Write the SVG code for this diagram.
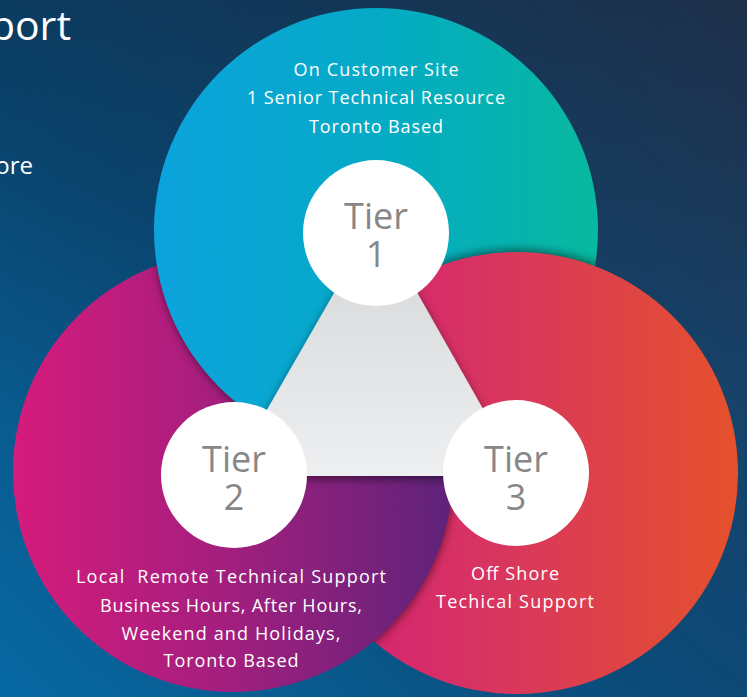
<svg xmlns="http://www.w3.org/2000/svg" width="747" height="697" viewBox="0 0 747 697">
<style>
.desc{font-family:"Open Sans","DejaVu Sans",sans-serif;font-size:18px;fill:#ffffff;text-anchor:middle}
.tier{font-family:"Open Sans","DejaVu Sans",sans-serif;font-size:36px;fill:#878787;text-anchor:middle}
.title{font-family:"Open Sans","DejaVu Sans",sans-serif;fill:#ffffff;text-anchor:end}
.badge{fill:#ffffff}
.cast{fill:#000000;opacity:0.45;filter:url(#blur)}
</style>
<defs>
<linearGradient id="bg" x1="0" y1="1" x2="1" y2="0">
<stop offset="0" stop-color="#0769a3"/>
<stop offset="0.45" stop-color="#0b4a78"/>
<stop offset="1" stop-color="#243a5a"/>
</linearGradient>
<linearGradient id="bgShade" x1="0" y1="0" x2="0" y2="1">
<stop offset="0" stop-color="#000" stop-opacity="0.18"/>
<stop offset="0.6" stop-color="#000" stop-opacity="0"/>
</linearGradient>
<linearGradient id="gTop" gradientUnits="userSpaceOnUse" x1="154" y1="0" x2="598" y2="0">
<stop offset="0" stop-color="#0ca3dd"/>
<stop offset="0.5" stop-color="#05aac6"/>
<stop offset="1" stop-color="#08b99f"/>
</linearGradient>
<linearGradient id="gLeft" gradientUnits="userSpaceOnUse" x1="13" y1="0" x2="453" y2="0">
<stop offset="0" stop-color="#d61b7c"/>
<stop offset="0.5" stop-color="#a11f7e"/>
<stop offset="1" stop-color="#5e237a"/>
</linearGradient>
<linearGradient id="gRight" gradientUnits="userSpaceOnUse" x1="296" y1="0" x2="738" y2="0">
<stop offset="0" stop-color="#d41d78"/>
<stop offset="0.45" stop-color="#d83560"/>
<stop offset="1" stop-color="#e5512b"/>
</linearGradient>
<linearGradient id="gTri" x1="0" y1="0" x2="0" y2="1">
<stop offset="0" stop-color="#d4d5d7"/>
<stop offset="1" stop-color="#eeeff1"/>
</linearGradient>
<filter id="blur" x="-10%" y="-10%" width="120%" height="120%">
<feGaussianBlur stdDeviation="4"/>
</filter>
<filter id="shTri" x="-20%" y="-20%" width="140%" height="140%">
<feDropShadow dx="0" dy="3" stdDeviation="5" flood-color="#000" flood-opacity="0.5"/>
</filter>
<clipPath id="clipTop"><circle cx="376" cy="230" r="222"/></clipPath>
<clipPath id="clipLeft"><circle cx="233" cy="472" r="220"/></clipPath>
<clipPath id="clipRight"><circle cx="517" cy="473" r="221"/></clipPath>
</defs>

<rect x="0" y="0" width="747" height="697" fill="url(#bg)"/>
<rect x="0" y="0" width="747" height="697" fill="url(#bgShade)"/>

<g id="title-fragments">
<text class="title" x="71" y="40" font-size="41">port</text>
<text class="title" x="33" y="174" font-size="24">ore</text>
</g>

<g id="petal-tier2"><circle cx="233" cy="472" r="220" fill="url(#gLeft)"/></g>
<g clip-path="url(#clipLeft)"><circle class="cast" cx="376" cy="232" r="222"/></g>
<g id="petal-tier1"><circle cx="376" cy="230" r="222" fill="url(#gTop)"/></g>
<g clip-path="url(#clipTop)"><circle class="cast" cx="517" cy="471" r="222"/></g>
<g id="petal-tier3"><circle cx="517" cy="473" r="221" fill="url(#gRight)"/></g>
<g clip-path="url(#clipRight)"><circle class="cast" cx="234" cy="474" r="220"/></g>
<g id="petal-tier2-overlap"><circle cx="233" cy="472" r="220" fill="url(#gLeft)" clip-path="url(#clipRight)"/></g>

<g id="connectors">
<polygon id="center-triangle" points="376,220 229,476 521,476" fill="url(#gTri)" filter="url(#shTri)"/>
</g>

<g id="tier1">
<circle class="badge" cx="376" cy="233" r="73"/>
<text class="tier" x="376" y="229" textLength="64">Tier</text>
<text class="tier" x="376" y="267">1</text>
<text class="desc" x="376" y="76" textLength="165">On Customer Site</text>
<text class="desc" x="376" y="104" textLength="258">1 Senior Technical Resource</text>
<text class="desc" x="376" y="133" textLength="134">Toronto Based</text>
</g>

<g id="tier2">
<circle class="badge" cx="234" cy="475" r="73"/>
<text class="tier" x="234" y="472" textLength="64">Tier</text>
<text class="tier" x="234" y="510">2</text>
<text class="desc" x="231" y="583" textLength="310" xml:space="preserve">Local  Remote Technical Support</text>
<text class="desc" x="231" y="612" textLength="262">Business Hours, After Hours,</text>
<text class="desc" x="231" y="640" textLength="219">Weekend and Holidays,</text>
<text class="desc" x="231" y="667" textLength="135">Toronto Based</text>
</g>

<g id="tier3">
<circle class="badge" cx="516" cy="473" r="73"/>
<text class="tier" x="516" y="472" textLength="64">Tier</text>
<text class="tier" x="516" y="510">3</text>
<text class="desc" x="515" y="580" textLength="88">Off Shore</text>
<text class="desc" x="515" y="608" textLength="158">Techical Support</text>
</g>
</svg>
